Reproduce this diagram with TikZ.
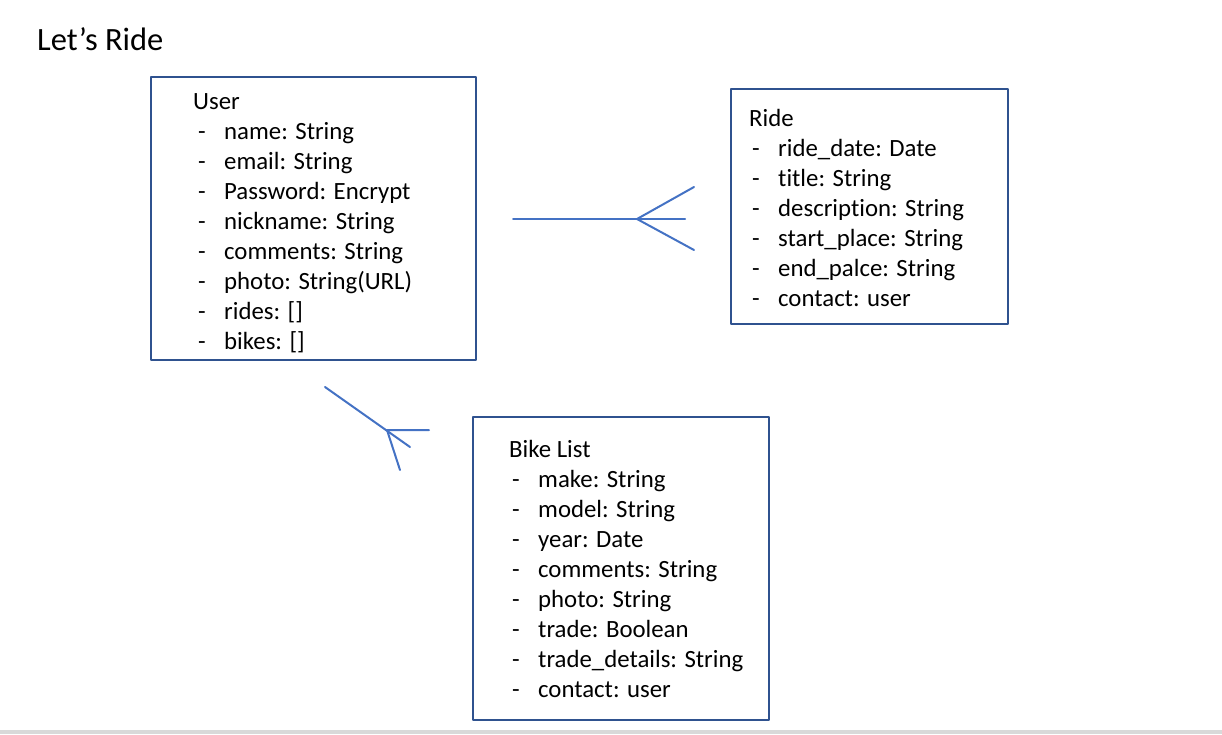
\documentclass[tikz,border=0pt]{standalone}
\usepackage{fontspec}
\setmainfont[Ligatures=NoCommon]{Carlito}
\definecolor{boxblue}{HTML}{2F528F}
\definecolor{linkblue}{HTML}{4472C4}
\newcommand{\attr}[1]{\makebox[26pt][l]{-}#1}

\begin{document}
\begin{tikzpicture}[x=1pt,y=-1pt,line cap=round,line join=round,
  entity/.style={draw=boxblue,line width=1.5pt,fill=none,inner sep=0pt},
  row/.style={anchor=base west,inner sep=0pt,font=\fontsize{24.8}{30}\selectfont},
  link/.style={draw=linkblue,line width=2pt}]
\useasboundingbox (0,0) rectangle (1222,734);
\fill[black!15] (0,730) rectangle (1222,734);
\node[anchor=base west,inner sep=0pt,font=\fontsize{32.5}{38}\selectfont] (title) at (37,50) {Let’s Ride};
% boxes
\node[entity,minimum width=325pt,minimum height=283pt] (user) at (313.5,218.5) {};
\node[entity,minimum width=277pt,minimum height=235pt] (ride) at (869.5,206.5) {};
\node[entity,minimum width=296pt,minimum height=303pt] (bike) at (621,568.5) {};
% user
\node[row] (u0) at (193,109) {User};
\node[row] (u1) at (198,139) {\attr{name: String}};
\node[row] (u2) at (198,169) {\attr{email: String}};
\node[row] (u3) at (198,199) {\attr{Password: Encrypt}};
\node[row] (u4) at (198,229) {\attr{nickname: String}};
\node[row] (u5) at (198,259) {\attr{comments: String}};
\node[row] (u6) at (198,289) {\attr{photo: String(URL)}};
\node[row] (u7) at (198,319) {\attr{rides: []}};
\node[row] (u8) at (198,349) {\attr{bikes: []}};
% ride
\node[row] (r0) at (749,126) {Ride};
\node[row] (r1) at (752,156) {\attr{ride\_date: Date}};
\node[row] (r2) at (752,186) {\attr{title: String}};
\node[row] (r3) at (752,216) {\attr{description: String}};
\node[row] (r4) at (752,246) {\attr{start\_place: String}};
\node[row] (r5) at (752,276) {\attr{end\_palce: String}};
\node[row] (r6) at (752,306) {\attr{contact: user}};
% bike list
\node[row] (b0) at (509,457) {Bike List};
\node[row] (b1) at (512,487) {\attr{make: String}};
\node[row] (b2) at (512,517) {\attr{model: String}};
\node[row] (b3) at (512,547) {\attr{year: Date}};
\node[row] (b4) at (512,577) {\attr{comments: String}};
\node[row] (b5) at (512,607) {\attr{photo: String}};
\node[row] (b6) at (512,637) {\attr{trade: Boolean}};
\node[row] (b7) at (512,667) {\attr{trade\_details: String}};
\node[row] (b8) at (512,697) {\attr{contact: user}};
% user -- ride
\coordinate (ur0) at (513,219);
\coordinate (ur1) at (685,219);
\coordinate (urf) at (637,219);
\coordinate (urt) at (694,187);
\coordinate (urb) at (694,250);
\draw[link] (ur0) -- (ur1);
\draw[link] (urt) -- (urf) -- (urb);
% user -- bike list
\coordinate (ub0) at (325,387);
\coordinate (ubf) at (387,430);
\coordinate (ubh) at (429,430);
\coordinate (ubd) at (410,447);
\coordinate (ubv) at (400,470);
\draw[link] (ub0) -- (ubd);
\draw[link] (ubh) -- (ubf) -- (ubv);
\end{tikzpicture}
\end{document}
